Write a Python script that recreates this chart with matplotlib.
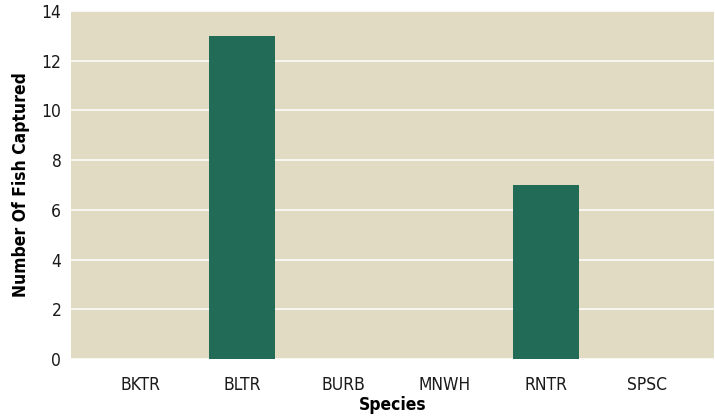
import matplotlib
matplotlib.use("Agg")
import matplotlib.pyplot as plt
import numpy as np

species = ["BKTR", "BLTR", "BURB", "MNWH", "RNTR", "SPSC"]
fish_captured = [0, 13, 0, 0, 7, 0]
y_ticks = [0, 2, 4, 6, 8, 10, 12, 14]

BG = "#e0dbc2"
BAR = "#226b56"

plt.rcParams["font.family"] = ["DejaVu Sans"]
plt.rcParams["font.stretch"] = "condensed"

fig = plt.figure(figsize=(7.15, 4.17), dpi=100)
ax = fig.add_axes([71 / 715, 58 / 417, 643 / 715, 348 / 417])
ax.set_facecolor(BG)

x = np.arange(len(species))
ax.bar(x, fish_captured, width=0.65, color=BAR, zorder=3)

ax.set_xlim(-0.69, 5.66)
ax.set_ylim(0, 14)
ax.set_yticks(y_ticks)
ax.set_xticks(x)
ax.set_xticklabels(species)
ax.grid(axis="y", color="white", linewidth=1.1, zorder=1)
ax.set_axisbelow(True)
for s in ax.spines.values():
    s.set_visible(False)
ax.tick_params(length=0, labelsize=12.5, colors="#1a1a1a")
ax.tick_params(axis="x", pad=12)
ax.tick_params(axis="y", pad=7)

ax.set_xlabel("Species", fontsize=12.5, fontweight="bold", labelpad=2)
ax.set_ylabel("Number Of Fish Captured", fontsize=12.5, fontweight="bold", labelpad=8)

fig.savefig("out.png", dpi=100)
